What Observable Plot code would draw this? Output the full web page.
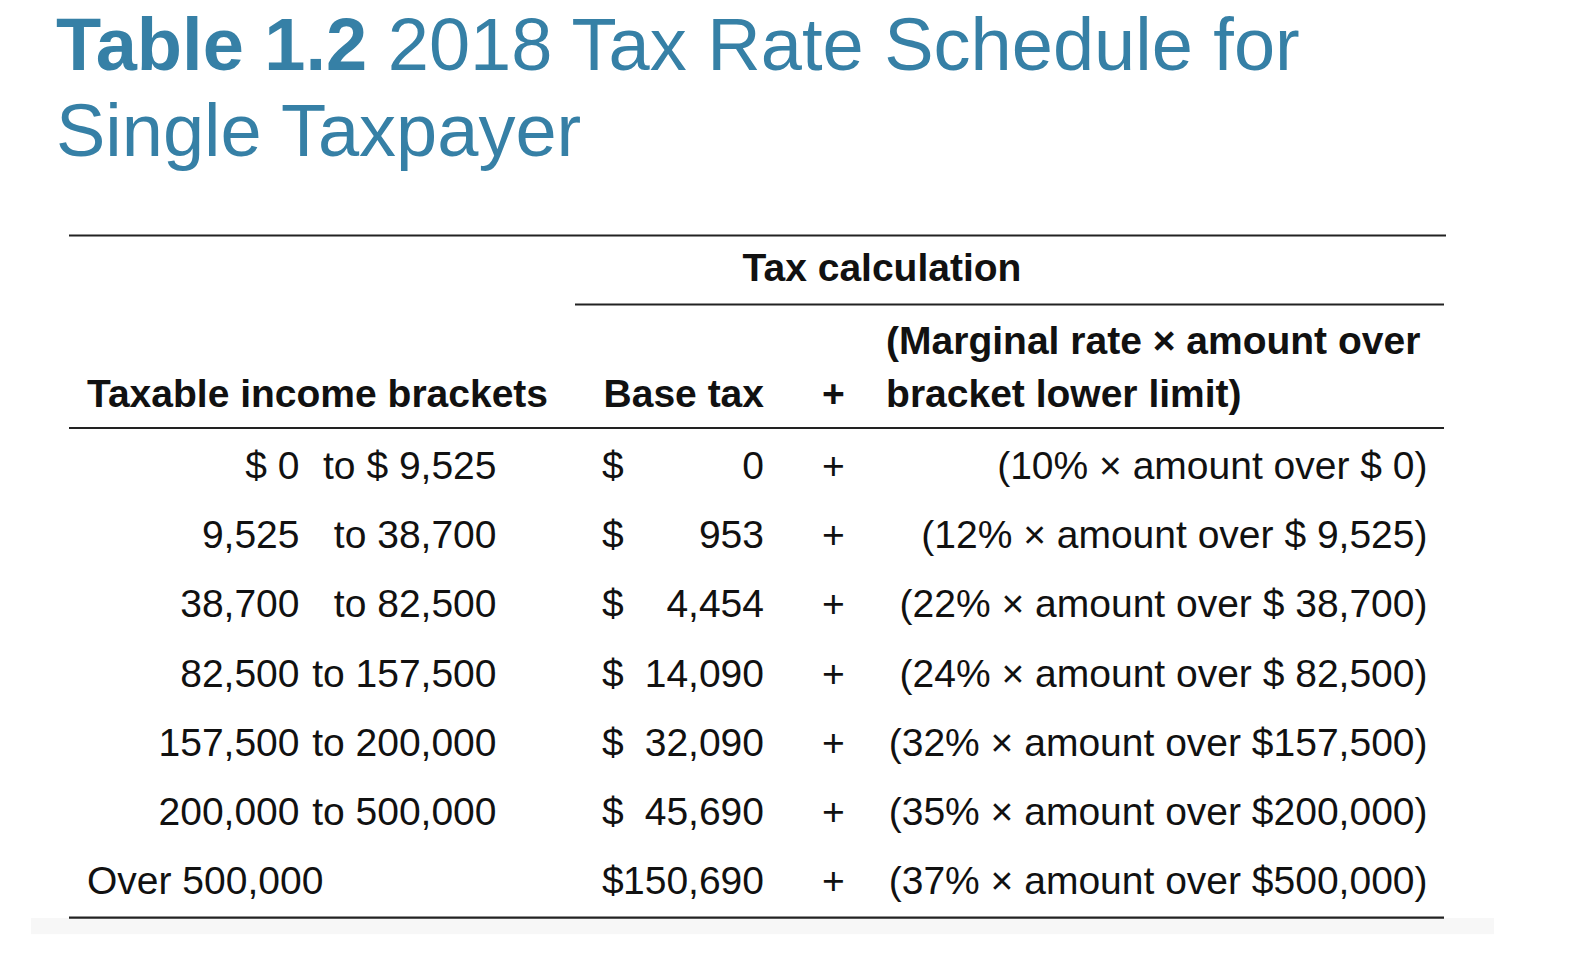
<!DOCTYPE html>
<html>
<head>
<meta charset="utf-8">
<script src="https://cdn.jsdelivr.net/npm/d3@7"></script>
<script src="https://cdn.jsdelivr.net/npm/@observablehq/plot@0.6"></script>
<style>
  html, body { margin: 0; padding: 0; background: #fff; }
  #title {
    font-family: "Liberation Sans", Arial, Helvetica, sans-serif;
    font-size: 74px;
    line-height: 86px;
    color: #3680a6;
    padding: 2px 0 0 56px;
    height: 180px;
    box-sizing: border-box;
    white-space: nowrap;
  }
  #title b { font-weight: 700; }
  #chart svg { display: block; }
</style>
</head>
<body>
<div id="title"><b>Table 1.2</b> 2018 Tax Rate Schedule for<br>Single Taxpayer</div>
<div id="chart"></div>
<script>
// ---- data ----
const lowerLimit   = [0, 9525, 38700, 82500, 157500, 200000, 500000];
const upperLimit   = [9525, 38700, 82500, 157500, 200000, 500000, null];
const baseTax      = [0, 953, 4454, 14090, 32090, 45690, 150690];
const marginalRate = [10, 12, 22, 24, 32, 35, 37];
const groupHeader  = "Tax calculation";
const colHeaders   = ["Taxable income brackets", "Base tax", "+", "bracket lower limit)"];
const calcHeaderTop = "(Marginal rate × amount over";

// ---- layout (pixels / row units) ----
const W = 1596, H = 792;
const FS = 39;
const FONT = "Liberation Sans, Arial, Helvetica, sans-serif";
const col = {left: 86.5, lowEnd: 299, highEnd: 496, dollar: 601.5, baseEnd: 763.5, plus: 833, calcStart: 885.6, calcEnd: 1427, calcMid: 881.5};
const rowY = {group: -2.859, calcTop: -1.805, header: -1.04};
const rules = [
  {y: -3.336, x1: 69, x2: 1446},
  {y: -2.339, x1: 575, x2: 1444},
  {y: -0.556, x1: 69, x2: 1444},
  {y: 6.513, x1: 69, x2: 1444}
];

const fmt = d3.format(",");
const money = v => (v < 100000 ? "$ " : "$") + fmt(v);

const rows = lowerLimit.map((lo, i) => ({
  row: i, lo, hi: upperLimit[i], base: baseTax[i], rate: marginalRate[i]
}));
const bounded = rows.filter(d => d.hi != null);
const open = rows.filter(d => d.hi == null);

const common = {fontSize: FS, fontFamily: FONT, fill: "#111"};
const bold = {...common, fontWeight: "bold"};

const chart = Plot.plot({
  width: W, height: H, margin: 0,
  style: {background: "white", fontFamily: FONT},
  x: {type: "linear", domain: [0, W], range: [0, W], axis: null},
  y: {type: "linear", domain: [0, 6], range: [286, 701.5], axis: null},
  marks: [
    Plot.rect([{y1: 6.527, y2: 6.76}], {x1: () => 31, x2: () => 1494, y1: "y1", y2: "y2", fill: "#f7f7f7"}),
    Plot.ruleY(rules, {y: "y", x1: "x1", x2: "x2", stroke: "#222", strokeWidth: 2.2}),
    // headers
    Plot.text([groupHeader], {x: () => col.calcMid, y: () => rowY.group, text: d => d, textAnchor: "middle", ...bold}),
    Plot.text([calcHeaderTop], {x: () => col.calcStart, y: () => rowY.calcTop, text: d => d, textAnchor: "start", ...bold}),
    Plot.text([colHeaders[0]], {x: () => col.left, y: () => rowY.header, text: d => d, textAnchor: "start", ...bold}),
    Plot.text([colHeaders[1]], {x: () => col.baseEnd, y: () => rowY.header, text: d => d, textAnchor: "end", ...bold}),
    Plot.text([colHeaders[2]], {x: () => col.plus, y: () => rowY.header, text: d => d, textAnchor: "middle", ...bold}),
    Plot.text([colHeaders[3]], {x: () => col.calcStart, y: () => rowY.header, text: d => d, textAnchor: "start", ...bold}),
    // income brackets
    Plot.text(bounded, {x: () => col.lowEnd, y: "row", text: d => d.row === 0 ? money(d.lo) : fmt(d.lo), textAnchor: "end", ...common}),
    Plot.text(bounded, {x: () => col.highEnd, y: "row", text: d => "to " + (d.row === 0 ? money(d.hi) : fmt(d.hi)), textAnchor: "end", ...common}),
    Plot.text(open, {x: () => col.left, y: "row", text: d => "Over " + fmt(d.lo), textAnchor: "start", ...common}),
    // base tax
    Plot.text(rows, {x: () => col.dollar, y: "row", text: () => "$", textAnchor: "start", ...common}),
    Plot.text(rows, {x: () => col.baseEnd, y: "row", text: d => fmt(d.base), textAnchor: "end", ...common}),
    Plot.text(rows, {x: () => col.plus, y: "row", text: () => "+", textAnchor: "middle", ...common}),
    // marginal calc
    Plot.text(rows, {x: () => col.calcEnd, y: "row", text: d => `(${d.rate}% × amount over ${money(d.lo)})`, textAnchor: "end", ...common})
  ]
});
document.getElementById("chart").appendChild(chart);
</script>
</body>
</html>
